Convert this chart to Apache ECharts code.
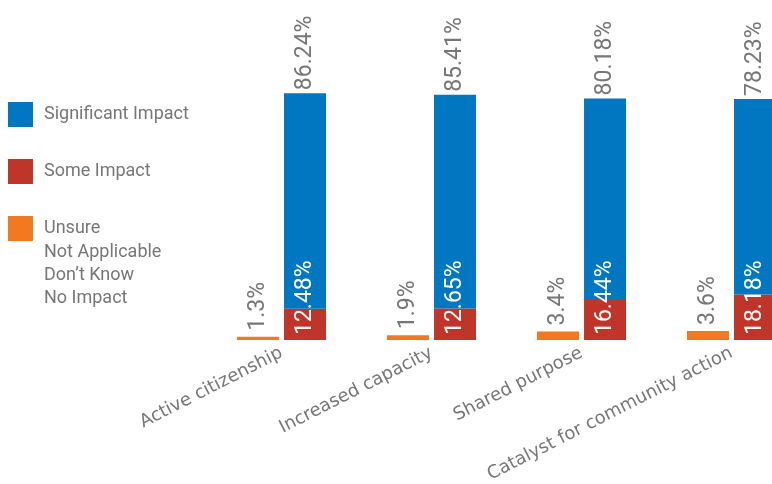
<!DOCTYPE html>
<html>
<head>
<meta charset="utf-8">
<script src="https://cdn.jsdelivr.net/npm/echarts@6/dist/echarts.min.js"></script>
<style>
  html, body { margin: 0; padding: 0; background: #fff; }
  #main { width: 772px; height: 484px; }
</style>
</head>
<body>
<div id="main"></div>
<script>
const categories = ['Active citizenship', 'Increased capacity', 'Shared purpose', 'Catalyst for community action']
const significant = [86.24, 85.41, 80.18, 78.23]
const some = [12.48, 12.65, 16.44, 18.18]
const unsure = [1.3, 1.9, 3.4, 3.6]
const unsureExtra = ['Not Applicable', 'Don\u2019t Know', 'No Impact']

var myChart = echarts.init(document.getElementById('main'))

const grayText = '#777777'
const numFont = 'Roboto, sans-serif'

// rotated value labels, reading bottom to top
var vLabel = function (pos, color, dist) {
  return {
    show: true,
    position: pos,
    rotate: 90,
    align: 'left',
    verticalAlign: 'middle',
    distance: dist,
    color: color,
    fontFamily: numFont,
    fontSize: 23,
    formatter: function (p) { return p.value + '%' }
  }
}

var option = {
  backgroundColor: '#fff',
  animation: false,
  legend: {
    orient: 'vertical',
    left: 8,
    top: 102,
    padding: 0,
    itemWidth: 25,
    itemHeight: 25,
    itemGap: 32,
    icon: 'rect',
    selectedMode: false,
    data: ['Significant Impact', 'Some Impact', 'Unsure'],
    textStyle: {
      color: grayText,
      fontFamily: 'Roboto, sans-serif',
      fontSize: 18,
      padding: [0, 0, 0, 6]
    }
  },
  graphic: [{
    type: 'text',
    left: 44,
    top: 241,
    style: {
      text: unsureExtra.join('\n'),
      fill: grayText,
      font: '18px Roboto, sans-serif',
      lineHeight: 23
    }
  }],
  grid: {
    left: 206.5,
    right: -34.5,
    top: 90,
    bottom: 144,
    containLabel: false,
    outerBoundsMode: 'none'
  },
  xAxis: {
    type: 'category',
    data: categories,
    axisLine: { show: false },
    axisTick: { show: false },
    axisLabel: {
      rotate: 27,
      margin: 12,
      interval: 0,
      color: grayText,
      fontFamily: '"DejaVu Sans", sans-serif',
      fontSize: 18
    }
  },
  yAxis: {
    type: 'value',
    min: 0,
    max: 100,
    show: false
  },
  series: [
    {
      name: 'Unsure',
      type: 'bar',
      barWidth: 42,
      barGap: '12%',
      data: unsure,
      itemStyle: { color: '#f27920' },
      label: vLabel('top', grayText, 6)
    },
    {
      name: 'Some Impact',
      type: 'bar',
      stack: 'total',
      barWidth: 42,
      data: some,
      itemStyle: { color: '#c03529' },
      label: vLabel('insideBottom', '#fff', 5)
    },
    {
      name: 'Significant Impact',
      type: 'bar',
      stack: 'total',
      barWidth: 42,
      data: significant,
      itemStyle: { color: '#0077c0' },
      label: vLabel('top', grayText, 3)
    }
  ]
}
myChart.setOption(option)
</script>
</body>
</html>
